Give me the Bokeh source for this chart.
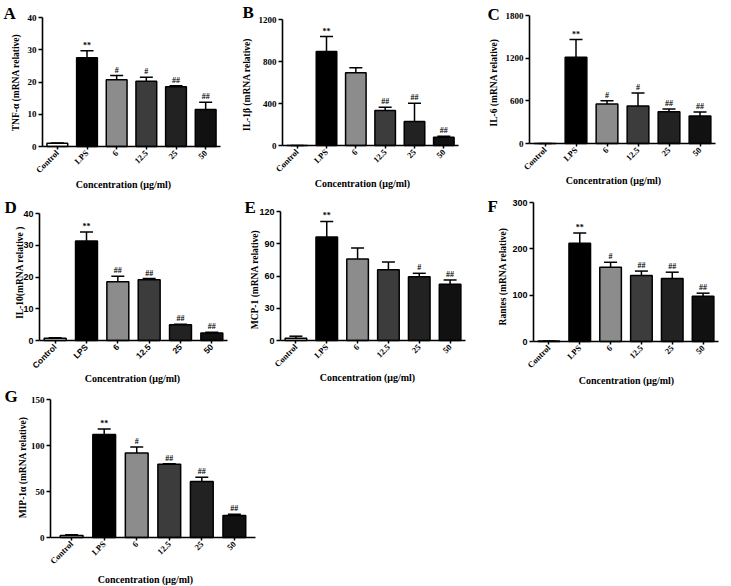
import math
from bokeh.plotting import figure
from bokeh.models import Range1d, FixedTicker, ColumnDataSource, Whisker, TeeHead, Label
from bokeh.layouts import row, column
from bokeh.core.properties import value
from bokeh.embed import file_html
from bokeh.resources import INLINE

# ---------------- data ----------------
categories = ["Control", "LPS", "6", "12.5", "25", "50"]
x_label = "Concentration (\u03bcg/ml)"

tnf_mean = [1.0, 27.5, 20.7, 20.2, 18.5, 11.5]
tnf_sem = [0.1, 2.2, 1.3, 1.3, 0.3, 2.2]
tnf_sig = ["", "**", "#", "#", "##", "##"]

il1b_mean = [1, 895, 692, 333, 229, 79]
il1b_sem = [0, 143, 48, 32, 174, 10]
il1b_sig = ["", "**", "", "##", "##", "##"]

il6_mean = [1, 1212, 555, 526, 446, 385]
il6_sem = [0, 250, 47, 184, 38, 57]
il6_sig = ["", "**", "#", "#", "##", "##"]

il10_mean = [0.7, 31.3, 18.5, 19.1, 5.0, 2.4]
il10_sem = [0.2, 2.9, 1.7, 0.4, 0.15, 0.2]
il10_sig = ["", "**", "##", "##", "##", "##"]

mcp1_mean = [2.2, 96.2, 75.8, 65.9, 59.4, 52.3]
mcp1_sem = [1.8, 14.5, 10.2, 7.1, 3.1, 4.0]
mcp1_sig = ["", "**", "", "", "#", "##"]

rantes_mean = [1, 212, 160.4, 142.4, 136, 97.8]
rantes_sem = [0, 22, 10.6, 9.6, 13.6, 6.5]
rantes_sig = ["", "**", "#", "##", "##", "##"]

mip_mean = [2.2, 112, 91.8, 79.5, 61, 23.9]
mip_sem = [0.7, 6, 6.6, 0.7, 4.4, 1.4]
mip_sig = ["", "**", "#", "##", "##", "##"]

bar_colors = ["white", "black", "#8c8c8c", "#3c3c3c", "#222222", "#111111"]

SERIF = "Liberation Serif"
SANS = "Liberation Sans"


def panel(letter, ylabel, mean, sem, sig, ymax, yticks,
          canvas, frame, letter_pos, ylab_pos, xlab_pos,
          xpad=0.5, yfont=SERIF, xfont=SERIF):
    cx, cy, W, H = canvas          # canvas position/size on the picture
    L, R, T, Z = frame             # plot area: left, right, top(ymax), zero
    n = len(categories)
    k = (n - 1 + 2 * xpad) / (R - L)
    m = ymax / (Z - T)
    p = figure(width=W, height=H, output_backend="svg", toolbar_location=None,
               min_border=0)
    p.x_range = Range1d(-xpad - (L - cx) * k, n - 1 + xpad + (cx + W - R) * k)
    p.y_range = Range1d(-(cy + H - Z) * m, ymax + (T - cy) * m)
    p.outline_line_color = None
    p.grid.visible = False
    p.background_fill_color = None
    p.border_fill_color = None

    xs = list(range(n))
    upper = [a + b for a, b in zip(mean, sem)]
    src = ColumnDataSource(dict(x=xs, top=mean, upper=upper, sig=sig,
                                color=bar_colors))
    p.vbar(x="x", top="top", bottom=0, width=0.7, fill_color="color",
           line_color="black", line_width=1.5, source=src)
    p.add_layout(Whisker(source=src, base="x", lower="top", upper="upper",
                         line_color="black", line_width=1.5, lower_head=None,
                         upper_head=TeeHead(size=13, line_color="black",
                                            line_width=1.5)))
    p.text(x="x", y="upper", text="sig", source=src, text_align="center",
           text_baseline="bottom", y_offset=-1, text_font=value(SERIF),
           text_font_size="8px", text_font_style="bold", text_color="black")

    for ax in (p.xaxis[0], p.yaxis[0]):
        ax.axis_line_width = 1.6
        ax.axis_line_color = "black"
        ax.major_tick_line_width = 1.5
        ax.major_tick_line_color = "black"
        ax.minor_tick_line_color = None
        ax.major_tick_in = 0
        ax.major_label_text_font_style = "bold"
        ax.major_label_text_color = "black"
    p.yaxis.fixed_location = -xpad
    p.yaxis.bounds = (0, ymax)
    p.yaxis.major_tick_out = 4
    p.yaxis.major_label_standoff = 2
    p.yaxis.ticker = FixedTicker(ticks=yticks)
    p.yaxis.major_label_text_font = yfont
    p.yaxis.major_label_text_font_size = "9px"

    p.xaxis.fixed_location = 0
    p.xaxis.bounds = (-xpad, n - 1 + xpad)
    p.xaxis.major_tick_out = 3
    p.xaxis.major_label_standoff = 2
    p.xaxis.ticker = FixedTicker(ticks=xs)
    p.xaxis.major_label_overrides = {i: c for i, c in zip(xs, categories)}
    p.xaxis.major_label_orientation = math.pi / 4
    p.xaxis.major_label_text_font = xfont
    p.xaxis.major_label_text_font_size = "8.5px"

    def sx(px):
        return px - cx

    def sy(py):
        return cy + H - py

    p.add_layout(Label(x=sx(xlab_pos[0]), y=sy(xlab_pos[1]), x_units="screen",
                       y_units="screen", text=x_label, text_align="center",
                       text_baseline="middle", text_font=SERIF,
                       text_font_size="10px", text_font_style="bold",
                       text_color="black"))
    p.add_layout(Label(x=sx(ylab_pos[0]), y=sy(ylab_pos[1]), x_units="screen",
                       y_units="screen", text=ylabel, angle=math.pi / 2,
                       text_align="center", text_baseline="middle",
                       text_font=SERIF, text_font_size="9.5px",
                       text_font_style="bold", text_color="black"))
    p.add_layout(Label(x=sx(letter_pos[0]), y=sy(letter_pos[1]), x_units="screen",
                       y_units="screen", text=letter, text_align="left",
                       text_baseline="middle", text_font=SERIF,
                       text_font_size="17px", text_font_style="bold",
                       text_color="black"))
    return p


# picture columns: 0..240, 240..486, 486..730 ; rows: 0..196, 196..386, 386..585
pA = panel("A", "TNF-\u03b1 (mRNA relative)", tnf_mean, tnf_sem, tnf_sig,
           40, [0, 10, 20, 30, 40], (0, 0, 240, 196), (42, 220, 17, 146),
           (3, 13), (15, 82), (123, 184))
pB = panel("B", "IL-1\u03b2 (mRNA relative)", il1b_mean, il1b_sem, il1b_sig,
           1200, [0, 400, 800, 1200], (240, 0, 246, 196), (282, 458, 19, 145),
           (242, 12), (246, 84), (362, 183))
pC = panel("C", "IL-6 (mRNA relative)", il6_mean, il6_sem, il6_sig,
           1800, [0, 600, 1200, 1800], (486, 0, 244, 196), (529, 715, 15, 143),
           (487, 14), (493, 82), (613, 180))

pD = panel("D", "IL-10(mRNA relative )", il10_mean, il10_sem, il10_sig,
           40, [0, 10, 20, 30, 40], (0, 196, 240, 190), (39, 227, 213, 340),
           (4, 207), (19, 272), (132, 378), yfont=SANS, xfont=SANS)
pE = panel("E", "MCP-1 (mRNA relative)", mcp1_mean, mcp1_sem, mcp1_sig,
           120, [0, 30, 60, 90, 120], (240, 196, 246, 190), (280, 465, 211, 340),
           (244, 207), (254, 279), (367, 377), yfont=SANS)
pF = panel("F", "Rantes (mRNA relative)", rantes_mean, rantes_sem, rantes_sig,
           300, [0, 100, 200, 300], (486, 196, 244, 190), (533, 718, 202, 341),
           (487, 206), (502, 276), (626, 380), yfont=SANS)

pG = panel("G", "MIP-1\u03b1 (mRNA relative)", mip_mean, mip_sem, mip_sig,
           150, [0, 50, 100, 150], (0, 386, 300, 199), (50, 255, 399, 537),
           (4, 396), (22, 467), (145, 579), xpad=0.65)

layout = column(row(pA, pB, pC), row(pD, pE, pF), row(pG))

open("out.html", "w").write(file_html(layout, INLINE))
